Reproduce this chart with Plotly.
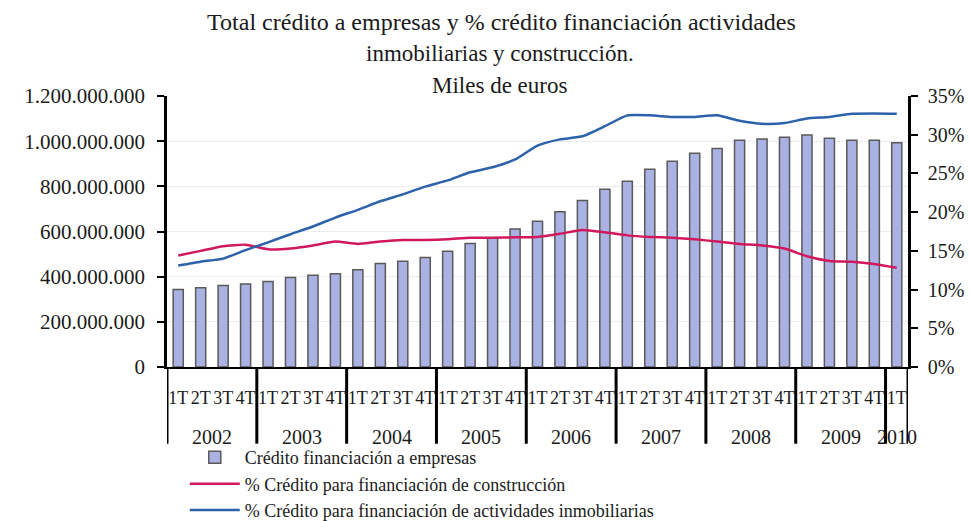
import plotly.graph_objects as go

# ---- data ----
years = ["2002", "2003", "2004", "2005", "2006", "2007", "2008", "2009", "2010"]
quarter_labels = ["1T", "2T", "3T", "4T"] * 8 + ["1T"]
credito_empresas = [343e6, 351e6, 361e6, 367e6, 379e6, 396e6, 406e6, 413e6,
                    431e6, 458e6, 468e6, 485e6, 512e6, 547e6, 570e6, 611e6,
                    645e6, 688e6, 737e6, 787e6, 822e6, 876e6, 911e6, 946e6,
                    967e6, 1004e6, 1010e6, 1017e6, 1027e6, 1013e6, 1004e6, 1004e6,
                    993e6]
pct_construccion = [14.4, 15.0, 15.6, 15.8, 15.2, 15.3, 15.7, 16.2,
                    15.9, 16.2, 16.4, 16.4, 16.5, 16.7, 16.7, 16.75,
                    16.8, 17.2, 17.7, 17.4, 17.0, 16.8, 16.7, 16.5,
                    16.2, 15.9, 15.7, 15.3, 14.3, 13.7, 13.6, 13.3,
                    12.8]
pct_inmobiliarias = [13.1, 13.6, 14.0, 15.1, 16.1, 17.15, 18.15, 19.3,
                     20.3, 21.4, 22.3, 23.3, 24.1, 25.15, 25.8, 26.8,
                     28.6, 29.4, 29.8, 31.1, 32.5, 32.5, 32.3, 32.3,
                     32.5, 31.8, 31.4, 31.5, 32.1, 32.3, 32.7, 32.75,
                     32.7]
series_names = ["Crédito financiación a empresas",
                "% Crédito para financiación de construcción",
                "% Crédito para financiación de actividades inmobiliarias"]
left_ticks = [0, 200e6, 400e6, 600e6, 800e6, 1000e6, 1200e6]
right_ticks = [0, 5, 10, 15, 20, 25, 30, 35]
right_tick_labels = [f"{v}%" for v in right_ticks]

SERIF = "Times New Roman, Liberation Serif, Times, serif"
INK = "#1a1a1a"
n = len(quarter_labels)
idx = list(range(n))

fig = go.Figure()
fig.add_trace(go.Bar(
    x=idx, y=credito_empresas, name=series_names[0],
    width=0.45, marker=dict(color="#A9B2E2", line=dict(color="#5A5A5A", width=1.5)),
))
fig.add_trace(go.Scatter(
    x=idx, y=pct_construccion, yaxis="y2", mode="lines",
    name=series_names[1],
    line=dict(color="#D2185C", width=2.5, shape="spline", smoothing=0.5),
))
fig.add_trace(go.Scatter(
    x=idx, y=pct_inmobiliarias, yaxis="y2", mode="lines",
    name=series_names[2],
    line=dict(color="#2C62AA", width=2.5, shape="spline", smoothing=0.5),
))

# year labels and separators
shapes = []
annotations = []
for i, yr in enumerate(years):
    start = i * 4
    end = min(start + 4, n) - 1
    annotations.append(dict(
        x=(start + end) / 2, y=-0.259, xref="x", yref="paper",
        text=yr, showarrow=False, yanchor="middle",
        font=dict(family=SERIF, size=20, color=INK),
    ))
for b in list(range(0, n, 4)) + [n]:
    shapes.append(dict(
        type="line", xref="x", yref="paper", x0=b - 0.5, x1=b - 0.5,
        y0=0, y1=-0.283, line=dict(color="black", width=3),
    ))

annotations += [
    dict(text="inmobiliarias y construcción.", x=0.449, y=1.156, xref="paper", yref="paper",
         showarrow=False, yanchor="middle", font=dict(family=SERIF, size=23, color=INK)),
    dict(text="Miles de euros", x=0.449, y=1.037, xref="paper", yref="paper",
         showarrow=False, yanchor="middle", font=dict(family=SERIF, size=23, color=INK)),
]

fig.update_layout(
    width=970, height=521,
    margin=dict(l=167, r=62, t=96, b=154, autoexpand=False),
    paper_bgcolor="white", plot_bgcolor="white",
    separators=",.",
    font=dict(family=SERIF, size=19, color=INK),
    title=dict(text="Total crédito a empresas y % crédito financiación actividades",
               x=0.517, xref="container", xanchor="center",
               y=0.958, yref="container", yanchor="middle",
               font=dict(family=SERIF, size=24, color=INK)),
    xaxis=dict(
        range=[-0.5, n - 0.5], tickmode="array", tickvals=idx, ticktext=quarter_labels,
        tickfont=dict(family=SERIF, size=18, color=INK),
        ticks="", showline=True, linecolor="black", linewidth=1.5,
        showgrid=False, zeroline=False, ticklabelstandoff=14,
    ),
    yaxis=dict(
        range=[0, 1.2e9], tickmode="array", tickvals=left_ticks, tickformat=",d",
        showline=True, linecolor="black", linewidth=2.5,
        ticks="outside", ticklen=7, tickwidth=2, tickcolor="black",
        showgrid=True, gridcolor="#ececec", gridwidth=1, zeroline=False,
        tickfont=dict(family=SERIF, size=21, color=INK), ticklabelstandoff=8,
    ),
    yaxis2=dict(
        range=[0, 35], tickmode="array", tickvals=right_ticks, ticktext=right_tick_labels,
        overlaying="y", side="right",
        showline=True, linecolor="black", linewidth=2.5,
        ticks="outside", ticklen=7, tickwidth=2, tickcolor="black",
        showgrid=False, zeroline=False,
        tickfont=dict(family=SERIF, size=20, color=INK), ticklabelstandoff=6,
    ),
    legend=dict(
        x=0.024, y=-0.266, xanchor="left", yanchor="top", orientation="v",
        font=dict(family=SERIF, size=18, color=INK),
        bgcolor="rgba(0,0,0,0)", tracegroupgap=0, itemwidth=50,
    ),
    showlegend=True,
    shapes=shapes,
    annotations=annotations,
    bargap=0.5,
)

fig.write_html("out.html", config={"displayModeBar": False},
               post_script="document.body.style.margin='0';document.body.style.overflow='hidden';")
